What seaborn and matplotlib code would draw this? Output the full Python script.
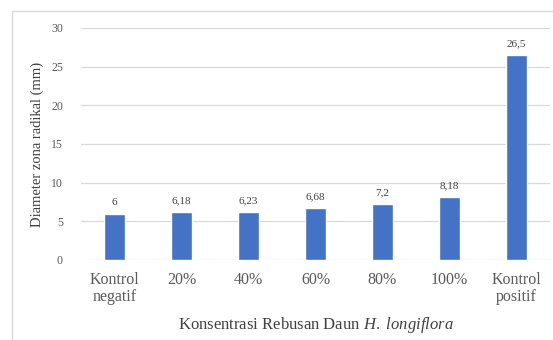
import matplotlib
matplotlib.use("Agg")
import matplotlib.pyplot as plt
import seaborn as sns
import pandas as pd
from matplotlib.patches import Rectangle

categories = ["Kontrol\nnegatif", "20%", "40%", "60%", "80%", "100%", "Kontrol\npositif"]
values = [6, 6.18, 6.23, 6.68, 7.2, 8.18, 26.5]
value_labels = ["6", "6,18", "6,23", "6,68", "7,2", "8,18", "26,5"]
yticks = [0, 5, 10, 15, 20, 25, 30]

sns.set_theme(style="white")
plt.rcParams["font.family"] = ["Liberation Serif", "DejaVu Serif"]
plt.rcParams["mathtext.fontset"] = "custom"
plt.rcParams["mathtext.rm"] = "Liberation Serif"
plt.rcParams["mathtext.it"] = "Liberation Serif:italic"

df = pd.DataFrame({"cat": categories, "val": values})

fig = plt.figure(figsize=(5.53, 3.40), dpi=100)
fig.patch.set_facecolor("white")
# outer frame
fig.add_artist(Rectangle((12 / 553, -0.05), 1.0, 1 - 11 / 340 + 0.05, transform=fig.transFigure,
                         fill=False, edgecolor="#d9d9d9", linewidth=1.0))

ax = fig.add_axes([81 / 553, 1 - 260 / 340, 469 / 553, (260 - 28) / 340])
sns.barplot(data=df, x="cat", y="val", color="#4472C4", width=0.31, ax=ax, saturation=1)

ax.set_ylim(0, 30)
ax.set_yticks(yticks)
ax.set_yticklabels([str(t) for t in yticks], fontsize=8.5, color="#595959")
ax.tick_params(axis="y", length=0, pad=13)
ax.tick_params(axis="x", length=0, pad=9, labelsize=11.5, labelcolor="#595959")
for lbl in ax.get_xticklabels():
    lbl.set_linespacing(1.05)
ax.yaxis.grid(True, color="#d9d9d9", linewidth=0.9)
ax.set_axisbelow(True)
for s in ax.spines.values():
    s.set_visible(False)

for c in ax.containers:
    ax.bar_label(c, labels=value_labels, padding=5, fontsize=8, color="#404040")

ax.set_ylabel("Diameter zona radikal (mm)", fontsize=10.5, color="#404040", labelpad=5)
ax.set_xlabel(r"Konsentrasi Rebusan Daun $\mathit{H.}$ $\mathit{longiflora}$", fontsize=12,
              color="#404040", labelpad=7)

fig.savefig("out.png", dpi=100, facecolor="white")
